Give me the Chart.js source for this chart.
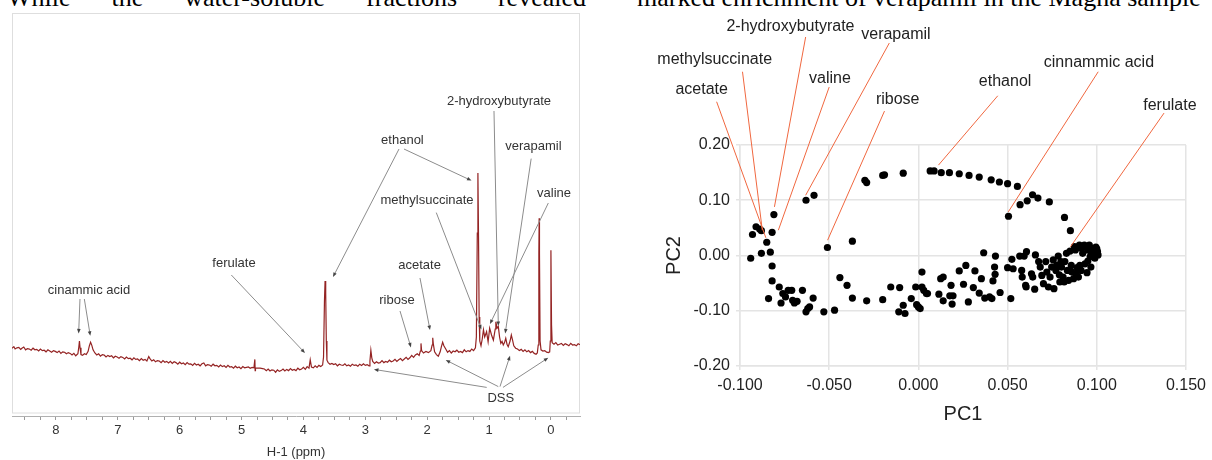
<!DOCTYPE html>
<html>
<head>
<meta charset="utf-8">
<script src="https://cdn.jsdelivr.net/npm/chart.js@4.4.1/dist/chart.umd.min.js"></script>
<style>
  html, body { margin: 0; padding: 0; background: #fff; }
  body { width: 1212px; height: 460px; position: relative; overflow: hidden; }
  .prose { position: absolute; top: -17px; font: 26px/30px "Liberation Serif", "Times New Roman", serif; color: #000; white-space: nowrap; }
  #proseLeft { left: 7px; width: 579px; text-align: justify; text-align-last: justify; white-space: normal; }
  #proseRight { left: 637px; }
  #spectrum { position: absolute; left: 0; top: 0; }
  #scores { position: absolute; left: 600px; top: 0; }
</style>
</head>
<body>
<div class="prose" id="proseLeft">While the water-soluble fractions revealed</div>
<div class="prose" id="proseRight">marked enrichment of verapamil in the Magna sample</div>
<canvas id="spectrum" width="600" height="460"></canvas>
<canvas id="scores" width="612" height="460"></canvas>
<script>
// 1H NMR spectrum, [ppm, intensity]
const spectrum = [
  [8.71,16.2],[8.68,16.6],[8.66,16.0],[8.63,16.3],[8.60,16.4],[8.57,15.9],[8.55,16.2],[8.52,16.5],
  [8.49,15.8],[8.46,16.1],[8.43,16.0],[8.40,15.7],[8.37,16.2],[8.34,15.8],[8.31,15.9],[8.28,15.5],
  [8.25,16.0],[8.22,15.6],[8.19,15.7],[8.16,15.3],[8.13,15.8],[8.10,15.5],[8.07,15.2],[8.04,15.6],
  [8.01,15.4],[7.98,15.1],[7.95,15.5],[7.92,14.9],[7.89,15.3],[7.86,15.2],[7.83,14.8],[7.80,15.1],
  [7.77,14.9],[7.74,14.5],[7.71,14.9],[7.68,14.3],[7.645,14.8],[7.63,16.5],[7.62,18.0],[7.61,16.3],
  [7.595,14.6],[7.57,14.4],[7.54,14.8],[7.51,14.6],[7.48,15.4],[7.46,16.8],[7.44,17.7],[7.42,16.9],
  [7.40,15.8],[7.37,15.0],[7.34,14.5],[7.31,14.8],[7.28,14.2],[7.25,14.6],[7.22,14.5],[7.19,14.0],
  [7.16,14.4],[7.13,14.1],[7.10,14.3],[7.07,13.8],[7.04,14.2],[7.01,14.0],[6.98,13.7],[6.95,14.1],
  [6.92,13.9],[6.89,13.5],[6.86,14.0],[6.83,13.6],[6.80,13.7],[6.77,13.3],[6.74,13.8],[6.71,13.4],
  [6.68,13.5],[6.65,13.1],[6.62,13.6],[6.59,13.2],[6.56,13.4],[6.53,13.0],[6.50,14.1],[6.48,13.6],
  [6.45,13.0],[6.42,13.3],[6.39,12.8],[6.36,13.1],[6.33,13.0],[6.30,12.6],[6.27,13.1],[6.24,12.7],
  [6.21,12.9],[6.18,12.5],[6.15,12.9],[6.12,12.4],[6.09,12.8],[6.06,12.6],[6.03,12.2],[6.00,12.7],
  [5.97,12.3],[5.94,12.5],[5.91,12.1],[5.88,12.6],[5.85,12.2],[5.82,12.3],[5.79,11.9],[5.76,12.4],
  [5.73,12.0],[5.70,12.2],[5.67,11.8],[5.64,12.3],[5.61,12.5],[5.58,11.8],[5.55,12.1],[5.52,12.0],
  [5.49,11.7],[5.46,12.2],[5.43,11.8],[5.40,11.9],[5.37,11.5],[5.34,12.0],[5.31,11.6],[5.28,11.8],
  [5.25,11.4],[5.22,11.9],[5.19,11.5],[5.16,11.6],[5.13,11.2],[5.10,11.7],[5.07,11.3],[5.04,11.5],
  [5.01,11.1],[4.98,11.6],[4.95,11.3],[4.92,11.4],[4.89,11.5],[4.86,11.2],[4.83,11.4],[4.80,11.3],
  [4.785,13.4],[4.78,10.6],[4.775,11.2],[4.74,11.2],[4.70,11.2],[4.66,11.1],[4.63,11.0],[4.60,10.6],
  [4.57,11.0],[4.54,10.5],[4.51,10.8],[4.48,10.7],[4.45,10.2],[4.42,10.8],[4.39,10.4],[4.36,10.6],
  [4.33,11.0],[4.30,10.5],[4.27,10.9],[4.24,10.6],[4.21,11.1],[4.18,10.7],[4.15,10.9],[4.12,10.6],
  [4.09,11.2],[4.06,10.8],[4.03,11.0],[4.00,11.4],[3.97,10.9],[3.94,11.6],[3.91,11.2],[3.89,13.3],
  [3.87,11.5],[3.84,11.3],[3.81,11.8],[3.78,11.4],[3.75,11.9],[3.72,11.6],[3.69,12.0],[3.675,14.0],
  [3.66,28.0],[3.65,33.0],[3.64,30.0],[3.63,18.0],[3.62,13.2],[3.60,12.6],[3.57,12.2],[3.54,12.4],
  [3.51,12.1],[3.48,12.3],[3.45,11.8],[3.42,12.2],[3.39,12.0],[3.36,11.9],[3.33,12.3],[3.30,11.8],
  [3.27,12.0],[3.24,11.7],[3.21,12.2],[3.18,11.9],[3.15,12.0],[3.12,11.7],[3.09,12.2],[3.06,11.9],
  [3.03,12.3],[3.00,11.9],[2.97,12.1],[2.94,11.8],[2.925,13.0],[2.91,15.7],[2.895,13.8],[2.88,12.9],
  [2.85,12.4],[2.82,12.8],[2.79,12.5],[2.76,12.6],[2.73,13.1],[2.70,12.6],[2.67,12.9],[2.64,12.7],
  [2.61,13.2],[2.58,12.8],[2.55,13.0],[2.52,13.4],[2.49,12.9],[2.46,13.3],[2.43,13.6],[2.40,13.1],
  [2.37,13.5],[2.34,13.9],[2.31,13.4],[2.28,13.8],[2.25,14.4],[2.22,13.9],[2.19,14.5],[2.16,14.8],
  [2.13,14.4],[2.11,15.5],[2.10,17.4],[2.09,15.6],[2.06,15.0],[2.02,15.4],[1.98,15.1],[1.94,15.6],
  [1.92,17.0],[1.91,18.8],[1.90,17.2],[1.88,15.3],[1.85,14.6],[1.82,14.2],[1.79,15.3],[1.77,16.6],
  [1.75,17.7],[1.73,16.8],[1.70,16.0],[1.67,15.2],[1.64,15.6],[1.61,15.0],[1.58,15.5],[1.55,15.3],
  [1.52,15.7],[1.49,15.2],[1.46,15.4],[1.43,15.1],[1.40,15.8],[1.37,15.3],[1.34,15.6],[1.31,15.4],
  [1.28,16.0],[1.25,15.6],[1.22,16.3],[1.205,19.0],[1.19,45.0],[1.18,60.0],[1.17,44.0],[1.16,24.0],
  [1.15,18.0],[1.13,16.8],[1.11,18.5],[1.09,20.8],[1.07,19.0],[1.04,20.3],[1.015,17.8],[0.99,21.2],
  [0.96,19.5],[0.93,18.2],[0.90,21.0],[0.89,22.8],[0.87,21.2],[0.85,21.6],[0.83,19.0],[0.81,17.4],
  [0.79,17.9],[0.77,17.0],[0.75,17.6],[0.73,18.7],[0.71,17.2],[0.69,16.6],[0.66,18.0],[0.64,19.5],
  [0.62,18.2],[0.60,16.8],[0.57,16.2],[0.54,16.0],[0.51,15.6],[0.48,15.9],[0.45,15.4],[0.42,15.8],
  [0.39,15.3],[0.36,15.6],[0.33,15.1],[0.30,15.4],[0.27,14.9],[0.24,14.7],[0.22,15.0],[0.205,17.0],
  [0.195,40.0],[0.19,48.7],[0.185,40.0],[0.175,18.0],[0.16,15.8],[0.13,15.5],[0.10,15.6],[0.07,15.2],
  [0.04,15.1],[0.02,15.3],[0.01,18.0],[0.00,40.7],[-0.01,22.0],[-0.02,17.6],[-0.05,17.2],[-0.08,17.6],
  [-0.11,17.0],[-0.14,17.2],[-0.17,17.4],[-0.20,16.9],[-0.23,17.3],[-0.26,17.1],[-0.29,16.8],[-0.32,17.4],
  [-0.35,17.0],[-0.38,17.1],[-0.41,16.8],[-0.44,17.3],[-0.47,17.1]
];
const ppmTicks = [8.5, 8.25, 8, 7.75, 7.5, 7.25, 7, 6.75, 6.5, 6.25, 6, 5.75, 5.5, 5.25, 5, 4.75, 4.5, 4.25,
  4, 3.75, 3.5, 3.25, 3, 2.75, 2.5, 2.25, 2, 1.75, 1.5, 1.25, 1, 0.75, 0.5, 0.25, 0, -0.25];

// PCA scores [PC1, PC2]
const leftCluster = [[-0.094,-0.005],[-0.093,0.038],[-0.091,0.052],[-0.089,0.048],[-0.088,0.045],[-0.085,0.024],
  [-0.088,0.004],[-0.083,0.006],[-0.081,0.074],[-0.082,0.042],[-0.082,-0.019],[-0.082,-0.046]];
const lowerLeft = [[-0.084,-0.078],[-0.078,-0.057],[-0.077,-0.086],[-0.076,-0.069],[-0.0745,-0.075],[-0.073,-0.063],
  [-0.071,-0.063],[-0.0705,-0.081],[-0.0695,-0.086],[-0.068,-0.083],[-0.065,-0.063],[-0.063,-0.102],[-0.062,-0.096],
  [-0.061,-0.093],[-0.059,-0.077],[-0.053,-0.102],[-0.047,-0.099],[-0.044,-0.040],[-0.040,-0.054],[-0.037,-0.077],
  [-0.029,-0.082],[-0.020,-0.080],[-0.0155,-0.057],[-0.011,-0.102],[-0.0105,-0.058],[-0.0085,-0.090],[-0.0075,-0.105],
  [-0.004,-0.078],[-0.0015,-0.057],[-0.001,-0.089],[0.000,-0.093],[0.001,-0.096],[0.002,-0.030],[0.002,-0.057],
  [0.003,-0.063],[0.0045,-0.069]];
const upperLeft = [[-0.063,0.100],[-0.0585,0.109],[-0.051,0.0145],[-0.037,0.026]];
const arcTop = [[-0.030,0.136],[-0.029,0.132],[-0.020,0.145],[-0.019,0.146],[-0.0085,0.149],[0.0066,0.153],
  [0.0088,0.153],[0.0128,0.150],[0.0174,0.150],[0.0229,0.148],[0.0284,0.145],[0.0341,0.142],[0.0408,0.137],
  [0.0454,0.133],[0.050,0.130],[0.0555,0.125],[0.057,0.092],[0.061,0.099],[0.064,0.110],[0.067,0.104],
  [0.0734,0.097],[0.0819,0.069],[0.0852,0.045],[0.0505,0.071]];
const lowerMid = [[0.0051,-0.069],[0.0115,-0.070],[0.0125,-0.042],[0.0139,-0.039],[0.0139,-0.082],[0.0183,-0.054],
  [0.0176,-0.073],[0.0194,-0.073],[0.0189,-0.088],[0.0229,-0.028],[0.0253,-0.052],[0.0266,-0.018],[0.028,-0.084],
  [0.0308,-0.058],[0.0317,-0.028],[0.0341,-0.068],[0.0353,-0.042],[0.0366,0.005],[0.0372,-0.077],[0.0399,-0.075],
  [0.0412,-0.078],[0.0418,-0.046],[0.0427,-0.021],[0.0432,-0.001],[0.043,-0.034],[0.0458,-0.067],[0.050,-0.022],
  [0.0518,-0.078],[0.0524,-0.007],[0.0531,-0.024]];
const rightCluster = [[0.0568,-0.001],[0.0579,-0.027],[0.0582,-0.039],[0.0601,-0.054],[0.0604,-0.057],[0.0606,0.007],
  [0.0593,-0.001],[0.0634,-0.033],[0.0641,-0.039],[0.0652,-0.061],[0.0656,0.001],[0.0674,-0.011],[0.0683,-0.021],
  [0.0692,-0.036],[0.0701,-0.051],[0.0714,-0.011],[0.0729,-0.057],[0.0738,-0.039],[0.0747,-0.021],[0.076,-0.060],
  [0.0756,-0.008],[0.0775,-0.018],[0.0784,-0.001],[0.0793,-0.048],[0.0802,-0.021],[0.0811,-0.039],[0.0821,-0.011],
  [0.083,0.004],[0.0835,-0.027],[0.0842,-0.045],[0.0857,-0.018],[0.0875,0.016],[0.0885,-0.033],[0.0903,0.019],
  [0.0912,-0.027],[0.0921,0.004],[0.093,0.019],[0.0934,-0.015],[0.0945,-0.031],[0.0949,0.010],[0.0958,0.019],
  [0.0963,-0.002],[0.0967,-0.021],[0.0976,0.013],[0.0985,0.004],[0.0995,0.015],[0.1004,0.007],[0.1007,0.001],
  [0.0989,-0.005],[0.0912,0.013],[0.094,0.016],[0.0967,0.007],[0.0897,-0.039],[0.0817,-0.048],[0.0799,-0.011],
  [0.0771,-0.027],[0.088,0.010],[0.089,-0.022],[0.086,-0.030],[0.0905,-0.018],[0.095,-0.010],[0.098,0.010],
  [0.100,0.012],[0.085,0.008],[0.079,-0.035],[0.072,-0.030],[0.087,-0.042]];

// label placements, in data units: text centre, then line start -> tip
const peakNotes = [
  { text: 'cinammic acid', at: [7.466, 30.75], arrows: [[7.611, 28.5, 7.633, 19.9], [7.541, 28.5, 7.445, 19.3]] },
  { text: 'ferulate', at: [5.122, 37.5], arrows: [[5.165, 34.5, 3.975, 15.0]] },
  { text: 'ethanol', at: [2.40, 68.25], arrows: [[2.455, 66.0, 3.522, 34.0], [2.375, 66.0, 1.284, 58.1]] },
  { text: 'methylsuccinate', at: [2.003, 53.1], arrows: [[1.853, 50.1, 1.124, 20.9]] },
  { text: 'acetate', at: [2.122, 37.0], arrows: [[2.116, 33.75, 1.954, 20.75]] },
  { text: 'ribose', at: [2.488, 28.25], arrows: [[2.439, 25.5, 2.262, 16.4]] },
  { text: '2-hydroxybutyrate', at: [0.839, 78.0], arrows: [[0.92, 75.5, 0.85, 21.75]] },
  { text: 'verapamil', at: [0.282, 66.6], arrows: [[0.319, 63.6, 0.739, 19.9]] },
  { text: 'valine', at: [-0.05, 54.9], arrows: [[0.042, 52.5, 0.985, 22.25]] },
  { text: 'DSS', at: [0.81, 3.7], arrows: [[1.038, 6.4, 2.86, 10.9], [0.85, 6.6, 1.70, 13.25], [0.823, 6.6, 0.661, 14.3], [0.775, 6.4, 0.043, 13.8]] }
];
const loadingNotes = [
  { text: 'acetate', at: [-0.1215, 0.2994], from: [-0.1131, 0.2783], to: [-0.0855, 0.032] },
  { text: 'methylsuccinate', at: [-0.1142, 0.3538], from: [-0.0986, 0.3326], to: [-0.0875, 0.0458] },
  { text: '2-hydroxybutyrate', at: [-0.0717, 0.4141], from: [-0.0632, 0.3955], to: [-0.0807, 0.088] },
  { text: 'valine', at: [-0.0496, 0.3194], from: [-0.050, 0.3049], to: [-0.0785, 0.0458] },
  { text: 'verapamil', at: [-0.0126, 0.3991], from: [-0.0163, 0.3846], to: [-0.0632, 0.109] },
  { text: 'ribose', at: [-0.0116, 0.2813], from: [-0.019, 0.2614], to: [-0.0509, 0.0277] },
  { text: 'ethanol', at: [0.0486, 0.3145], from: [0.0445, 0.2891], to: [0.01125, 0.1636] },
  { text: 'cinnammic acid', at: [0.1012, 0.3489], from: [0.1008, 0.3326], to: [0.0504, 0.079] },
  { text: 'ferulate', at: [0.141, 0.2705], from: [0.1377, 0.2578], to: [0.0852, 0.0156] }
];

Chart.defaults.font.family = '"Liberation Sans", Arial, sans-serif';
Chart.defaults.color = '#333';

const spectrumFrame = {
  id: 'spectrumFrame',
  beforeDatasetsDraw(chart) {
    const { ctx, chartArea: a } = chart;
    ctx.save();
    ctx.strokeStyle = '#dedede';
    ctx.lineWidth = 1;
    ctx.strokeRect(a.left + 0.5, a.top + 0.5, a.right - a.left - 1, a.bottom - a.top - 3.5);
    ctx.restore();
  }
};

function arrow(ctx, sx, sy, tx, ty) {
  const ang = Math.atan2(ty - sy, tx - sx);
  ctx.beginPath();
  ctx.moveTo(sx, sy);
  ctx.lineTo(tx - 3 * Math.cos(ang), ty - 3 * Math.sin(ang));
  ctx.stroke();
  ctx.beginPath();
  ctx.moveTo(tx, ty);
  ctx.lineTo(tx - 4.5 * Math.cos(ang) + 1.8 * Math.sin(ang), ty - 4.5 * Math.sin(ang) - 1.8 * Math.cos(ang));
  ctx.lineTo(tx - 4.5 * Math.cos(ang) - 1.8 * Math.sin(ang), ty - 4.5 * Math.sin(ang) + 1.8 * Math.cos(ang));
  ctx.closePath();
  ctx.fill();
}

const spectrumNotes = {
  id: 'spectrumNotes',
  afterDraw(chart) {
    const { ctx, scales: { x, y } } = chart;
    ctx.save();
    ctx.strokeStyle = '#8c8c8c';
    ctx.fillStyle = '#444';
    ctx.lineWidth = 1;
    peakNotes.forEach(n => {
      n.arrows.forEach(a => {
        arrow(ctx, x.getPixelForValue(a[0]), y.getPixelForValue(a[1]), x.getPixelForValue(a[2]), y.getPixelForValue(a[3]));
      });
    });
    ctx.fillStyle = '#333';
    ctx.font = '13px "Liberation Sans", Arial, sans-serif';
    ctx.textAlign = 'center';
    ctx.textBaseline = 'middle';
    peakNotes.forEach(n => {
      ctx.fillText(n.text, x.getPixelForValue(n.at[0]), y.getPixelForValue(n.at[1]));
    });
    ctx.restore();
  }
};

const scoreNotes = {
  id: 'scoreNotes',
  afterDraw(chart) {
    const { ctx, scales: { x, y } } = chart;
    ctx.save();
    ctx.strokeStyle = '#f0673f';
    ctx.lineWidth = 1;
    loadingNotes.forEach(n => {
      ctx.beginPath();
      ctx.moveTo(x.getPixelForValue(n.from[0]), y.getPixelForValue(n.from[1]));
      ctx.lineTo(x.getPixelForValue(n.to[0]), y.getPixelForValue(n.to[1]));
      ctx.stroke();
    });
    ctx.fillStyle = '#222';
    ctx.font = '16px "Liberation Sans", Arial, sans-serif';
    ctx.textAlign = 'center';
    ctx.textBaseline = 'middle';
    loadingNotes.forEach(n => {
      ctx.fillText(n.text, x.getPixelForValue(n.at[0]), y.getPixelForValue(n.at[1]));
    });
    ctx.restore();
  }
};

new Chart(document.getElementById('spectrum'), {
  type: 'line',
  data: {
    datasets: [{
      data: spectrum.map(p => ({ x: p[0], y: p[1] })),
      borderColor: '#942323',
      borderWidth: 1.2,
      pointRadius: 0,
      tension: 0,
      fill: false
    }]
  },
  options: {
    responsive: false,
    animation: false,
    devicePixelRatio: 1,
    layout: { padding: { left: 12, right: 20, top: 13, bottom: 0 } },
    plugins: { legend: { display: false }, tooltip: { enabled: false } },
    scales: {
      x: {
        type: 'linear',
        reverse: true,
        min: -0.47,
        max: 8.71,
        afterBuildTicks: scale => { scale.ticks = ppmTicks.map(v => ({ value: v })); },
        afterFit: scale => { scale.height = 44; },
        grid: { drawOnChartArea: false, drawTicks: true, tickLength: 4, color: '#9a9a9a' },
        border: { display: true, color: '#b0b0b0' },
        ticks: {
          callback: v => Number.isInteger(v) ? String(v) : '',
          autoSkip: false,
          maxRotation: 0,
          padding: 3,
          font: { size: 13 },
          color: '#333'
        },
        title: { display: true, text: 'H-1 (ppm)', font: { size: 13 }, color: '#333', padding: { top: 0, bottom: 0 } }
      },
      y: { display: false, min: -0.75, max: 100 }
    }
  },
  plugins: [spectrumFrame, spectrumNotes]
});

new Chart(document.getElementById('scores'), {
  type: 'scatter',
  data: {
    datasets: [{
      data: [...leftCluster, ...lowerLeft, ...upperLeft, ...arcTop, ...lowerMid, ...rightCluster].map(p => ({ x: p[0], y: p[1] })),
      backgroundColor: '#000',
      borderWidth: 0,
      pointRadius: 3.6
    }]
  },
  options: {
    responsive: false,
    animation: false,
    devicePixelRatio: 1,
    layout: { padding: { left: 0, right: 19, top: 145, bottom: 0 } },
    plugins: { legend: { display: false }, tooltip: { enabled: false } },
    scales: {
      x: {
        min: -0.1,
        max: 0.15,
        afterFit: scale => { scale.height = 94; },
        ticks: { stepSize: 0.05, callback: v => v.toFixed(3), font: { size: 16 }, color: '#222', padding: 6, maxRotation: 0 },
        grid: { color: '#e4e4e4', lineWidth: 1.5, tickLength: 4 },
        border: { color: '#e4e4e4', width: 1.5 },
        title: { display: true, text: 'PC1', font: { size: 20 }, color: '#222', padding: { top: 0, bottom: 34 } }
      },
      y: {
        min: -0.2,
        max: 0.2,
        afterFit: scale => { scale.width = 140; },
        ticks: { stepSize: 0.1, callback: v => v.toFixed(2), font: { size: 16 }, color: '#222', padding: 6 },
        grid: { color: '#e4e4e4', lineWidth: 1.5, tickLength: 4 },
        border: { color: '#e4e4e4', width: 1.5 },
        title: { display: true, text: 'PC2', font: { size: 20 }, color: '#222', padding: { top: 62, bottom: 0 } }
      }
    }
  },
  plugins: [scoreNotes]
});
</script>
</body>
</html>
